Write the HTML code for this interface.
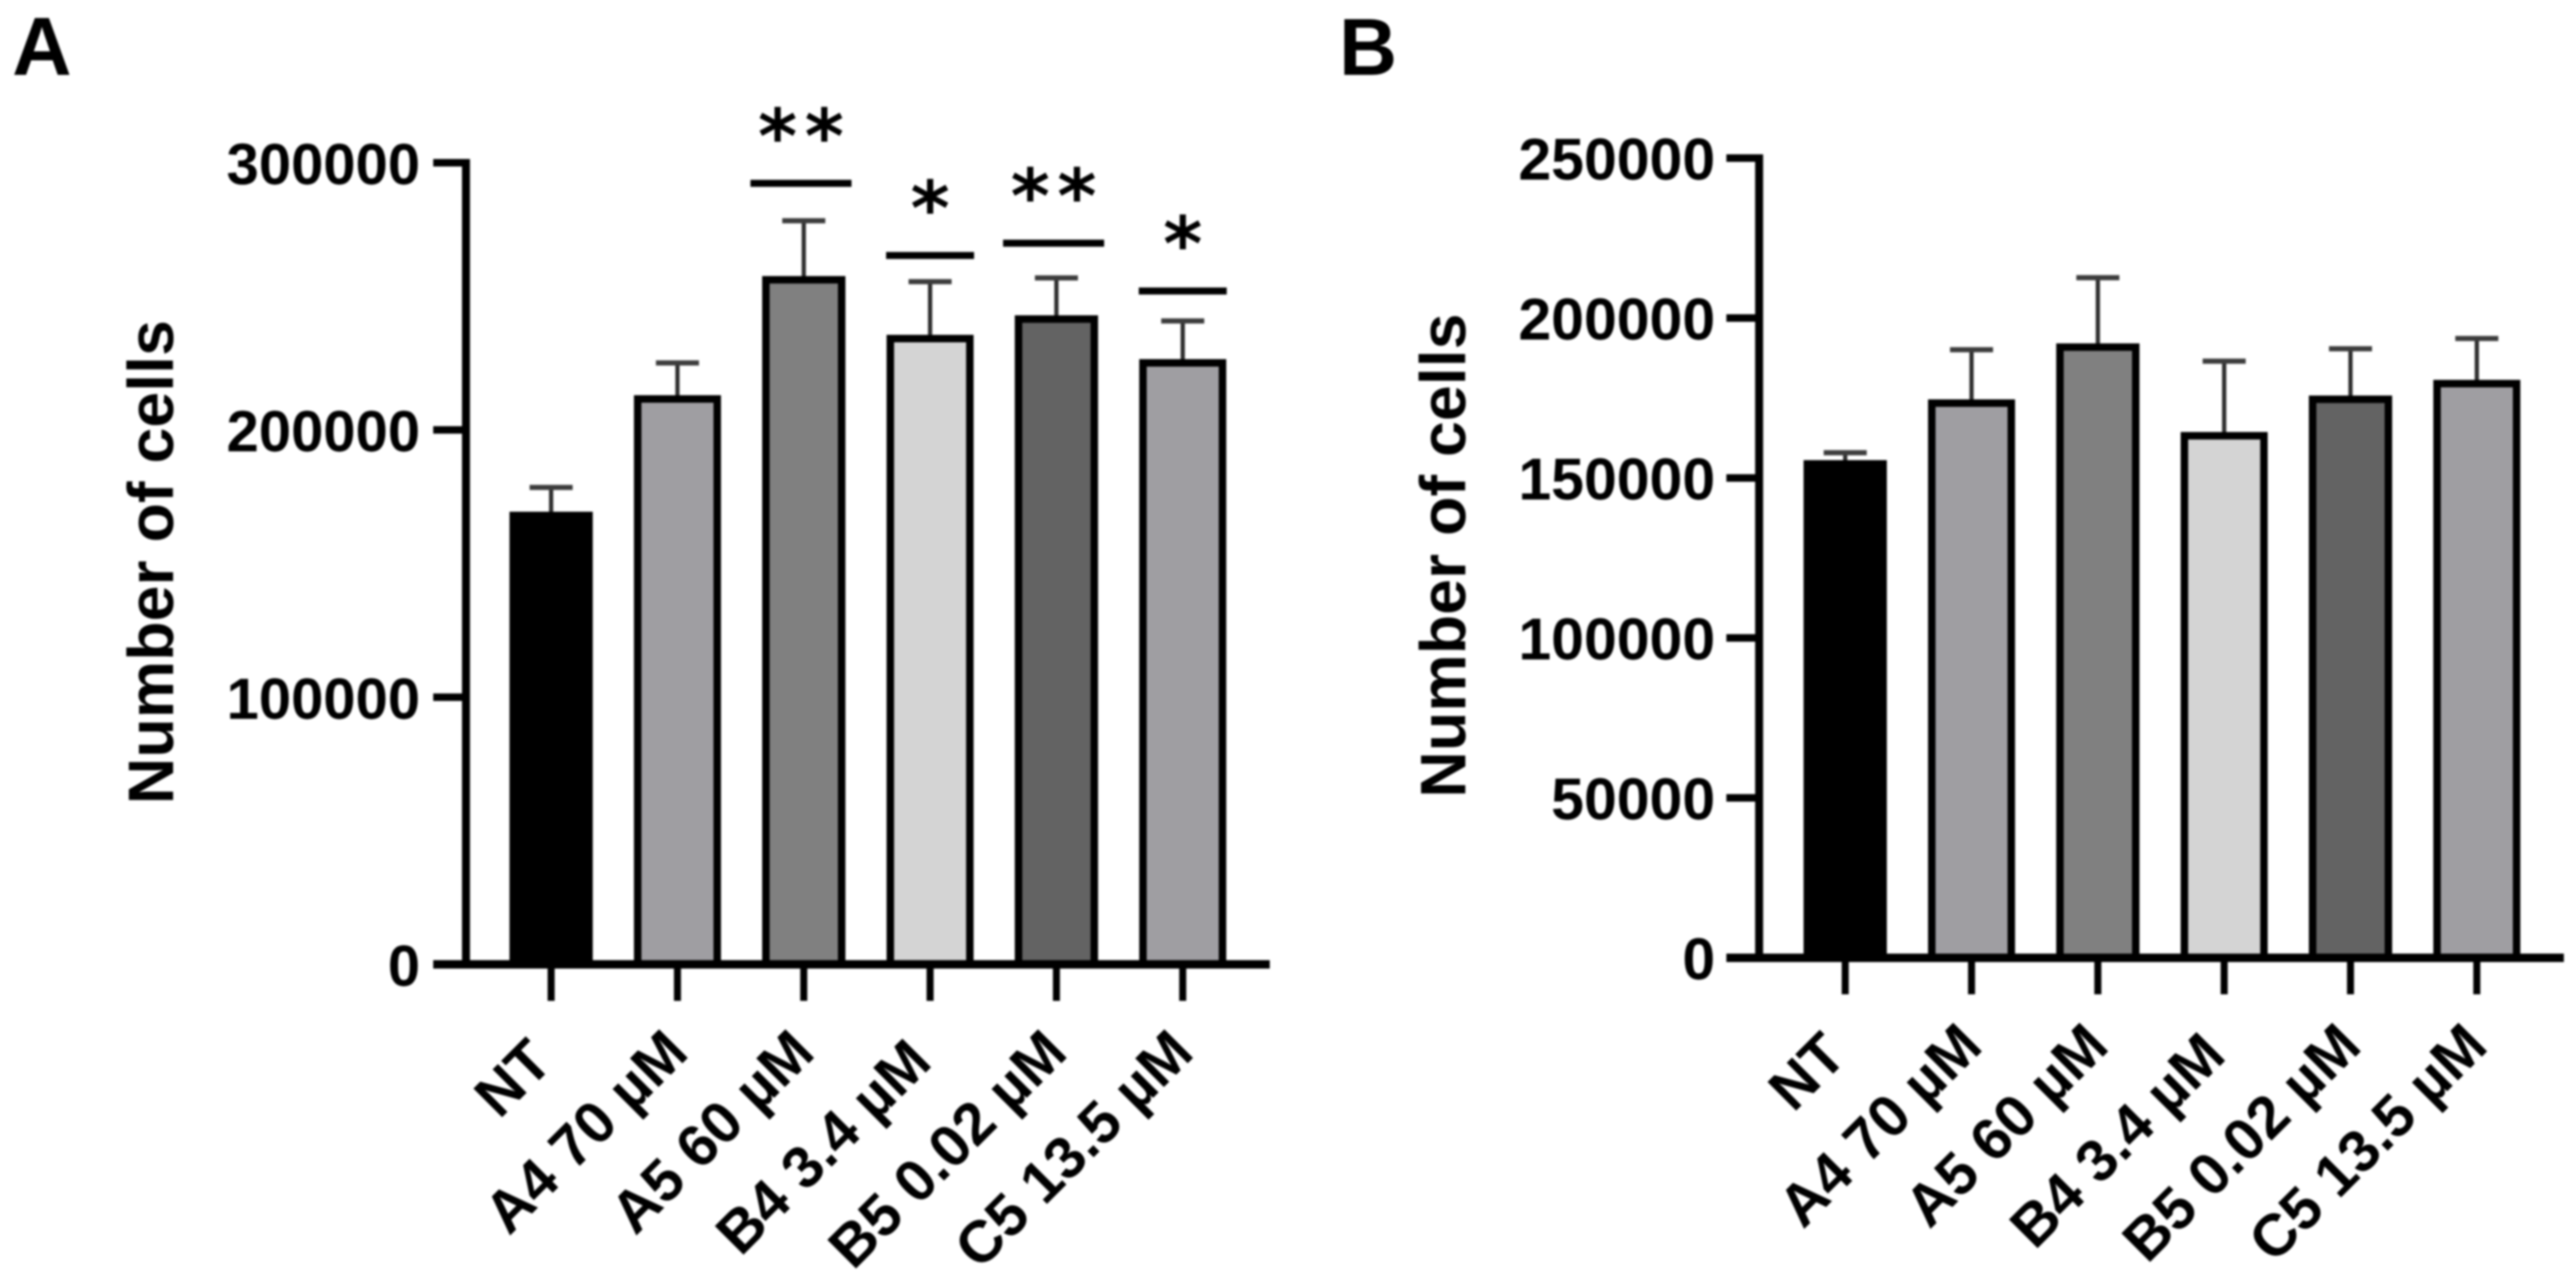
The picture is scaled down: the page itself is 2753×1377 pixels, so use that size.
<!DOCTYPE html>
<html lang="en">
<head>
<meta charset="utf-8">
<title>Number of cells by treatment</title>
<style>
  html, body { margin: 0; padding: 0; background: #ffffff; }
  body { width: 2753px; height: 1377px; overflow: hidden; }
  svg { display: block; filter: blur(1px); }
  text { font-family: "Liberation Sans", sans-serif; font-weight: 700; fill: #000000; }
  .star { font-family: "DejaVu Sans", sans-serif; }
</style>
</head>
<body>
<svg id="figure" xmlns="http://www.w3.org/2000/svg" width="2753" height="1377" viewBox="0 0 2753 1377">
  <rect x="0" y="0" width="2753" height="1377" fill="#ffffff"/>
  <text x="13" y="80" font-size="88">A</text>
  <text x="1431" y="80" font-size="86">B</text>
  <g id="panel-a"></g>
  <g id="panel-b"></g>
</svg>
<script>
const categories = ['NT', 'A4 70 µM', 'A5 60 µM', 'B4 3.4 µM', 'B5 0.02 µM', 'C5 13.5 µM'];
const barFills = ['#000000', '#9f9ea2', '#808080', '#d4d4d4', '#636363', '#9f9ea2'];

const panelATicks = [0, 100000, 200000, 300000];
const panelAMeans = [168000, 211600, 256200, 234200, 241500, 225100];
const panelAErrors = [10500, 13500, 22100, 21300, 15400, 15700];
const panelASigLevels = [null, null, 292300, 265300, 269900, 252000];
const panelASigMarks = ['', '', '**', '*', '**', '*'];

const panelBTicks = [0, 50000, 100000, 150000, 200000, 250000];
const panelBMeans = [154400, 173400, 190900, 163200, 174600, 179500];
const panelBErrors = [3500, 16700, 21700, 23300, 15800, 14100];

const NS = 'http://www.w3.org/2000/svg';
const LOW_LABELS = ['NT', 'B4 3.4 µM'];

function make(tag, attrs, parent, content) {
  const el = document.createElementNS(NS, tag);
  Object.keys(attrs).forEach(function (k) { el.setAttribute(k, attrs[k]); });
  if (content !== undefined) el.textContent = content;
  parent.appendChild(el);
  return el;
}

function drawPanel(cfg, ticks, means, errors, sigLevels, sigMarks) {
  const g = document.getElementById(cfg.id);
  const topValue = ticks[ticks.length - 1];
  const y = function (v) { return cfg.y0 - (v / topValue) * cfg.plotHeight; };
  const xc = function (i) { return cfg.firstX + i * cfg.step; };

  const title = make('text', {
    x: 0, y: 0, 'font-size': cfg.titleSize, 'text-anchor': 'middle',
    transform: 'translate(' + cfg.titleX + ',' + cfg.titleY + ') rotate(-90)'
  }, g, 'Number of cells');
  
  

  categories.forEach(function (cat, i) {
    const cx = xc(i);
    const top = means[i] + errors[i];
    const width = cfg.barWidth + (i % 2 ? 2 : -2);

    const stem = make('line', { x1: cx, x2: cx, y1: y(means[i]), y2: y(top), stroke: '#2c2c2c', 'stroke-width': 4.5 }, g);
    
    

    const cap = make('line', { x1: cx - 23, x2: cx + 23, y1: y(top), y2: y(top), stroke: '#3c3c3c', 'stroke-width': 5.5 }, g);
    
    

    const bar = make('rect', {
      x: cx - width / 2, y: y(means[i]), width: width, height: cfg.y0 - y(means[i]),
      fill: barFills[i], stroke: '#000000', 'stroke-width': 8
    }, g);
    
    

    const xTick = make('line', { x1: cx, x2: cx, y1: cfg.y0, y2: cfg.y0 + 39, stroke: '#000000', 'stroke-width': 7.5 }, g);
    
    

    const nudge = LOW_LABELS.indexOf(cat) >= 0 ? 10 : 0;
    const lx = cx + 14 - nudge;
    const ly = cfg.y0 + 97 + nudge;
    const label = make('text', {
      x: 0, y: 0, 'font-size': cfg.labelSize, 'text-anchor': 'end',
      transform: 'translate(' + lx + ',' + ly + ') rotate(-45)'
    }, g, cat);
    
    

    if (sigLevels && sigLevels[i] !== null) {
      const isDouble = sigMarks[i].length > 1;
      const half = isDouble ? 54 : 47;
      const shift = isDouble ? -3 : 0;
      const sigY = y(sigLevels[i]);
      const sigLine = make('line', { x1: cx + shift - half, x2: cx + shift + half, y1: sigY, y2: sigY, stroke: '#000000', 'stroke-width': 7.5 }, g);
      
      

      const star = make('text', {
        x: cx + shift + (isDouble ? 4 : 0), y: sigY - 22, 'font-size': 80, 'text-anchor': 'middle',
        'letter-spacing': isDouble ? 8 : 0, 'class': 'star'
      }, g, sigMarks[i]);
      
      
    }
  });

  const yAxis = make('line', { x1: cfg.axisX, x2: cfg.axisX, y1: y(topValue) - 4, y2: cfg.y0, stroke: '#000000', 'stroke-width': 8.5 }, g);
  
  

  const xAxis = make('line', { x1: cfg.axisLeft, x2: cfg.axisRight, y1: cfg.y0, y2: cfg.y0, stroke: '#000000', 'stroke-width': 9 }, g);
  
  

  ticks.forEach(function (t) {
    const yTick = make('line', { x1: cfg.axisLeft, x2: cfg.axisX, y1: y(t), y2: y(t), stroke: '#000000', 'stroke-width': t === 0 ? 9 : 8 }, g);
    
    

    const tickLabel = make('text', {
      x: cfg.tickLabelRight, y: y(t) + 23, 'font-size': cfg.tickSize, 'text-anchor': 'end'
    }, g, String(t));
    
    
  });
}

drawPanel({
  id: 'panel-a', y0: 1031, plotHeight: 857, axisX: 498, axisLeft: 463, axisRight: 1357,
  firstX: 589, step: 135, barWidth: 83, tickLabelRight: 449, tickSize: 62, labelSize: 63,
  titleSize: 69, titleX: 185, titleY: 601
}, panelATicks, panelAMeans, panelAErrors, panelASigLevels, panelASigMarks);

drawPanel({
  id: 'panel-b', y0: 1024, plotHeight: 855, axisX: 1880, axisLeft: 1845, axisRight: 2740,
  firstX: 1972, step: 135, barWidth: 83, tickLabelRight: 1833, tickSize: 63, labelSize: 63,
  titleSize: 69, titleX: 1566, titleY: 594
}, panelBTicks, panelBMeans, panelBErrors, null, null);
</script>
</body>
</html>
